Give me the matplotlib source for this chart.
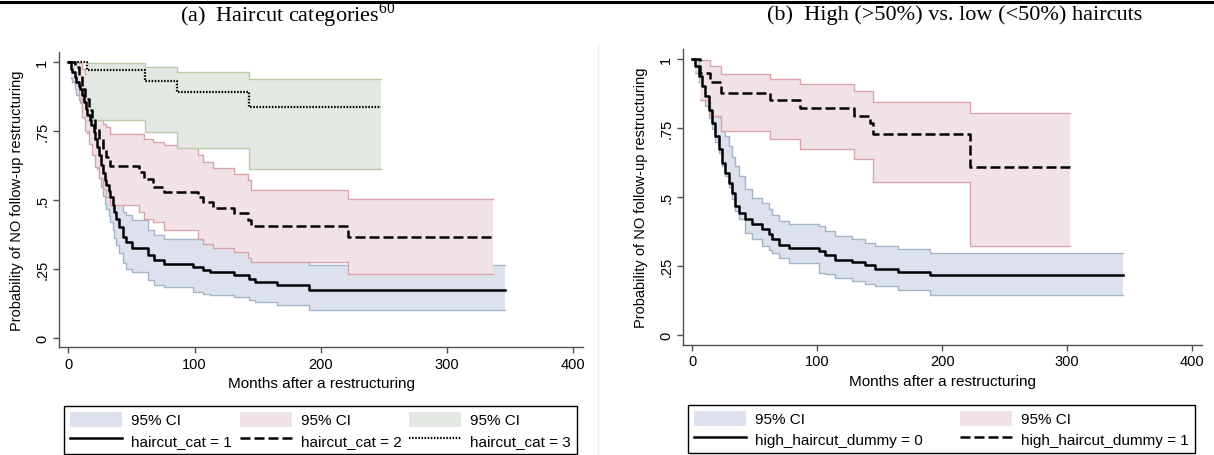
import matplotlib.pyplot as plt
from matplotlib.patches import Patch
from matplotlib.lines import Line2D

# (a) haircut categories: KM estimates and 95% CI bounds, step times in months
cat1_t = [0, 2, 3, 5, 6, 8, 9, 11, 12, 14, 15, 17, 18, 20, 21, 23, 24, 26, 27, 29,
          30, 32, 33, 35, 36, 38, 40, 43, 46, 50, 63, 68, 76, 99, 107, 112, 131, 143,
          148, 165, 191, 346]
cat1_s = [1.0, .975, .963, .944, .926, .912, .902, .878, .854, .830, .806, .788, .770,
          .745, .720, .690, .660, .625, .595, .570, .552, .530, .510, .480, .455, .430,
          .400, .365, .345, .323, .298, .280, .268, .256, .244, .238, .226, .214, .202,
          .190, .171, .171]
cat1_hi = [1.0, 1.0, .995, .985, .975, .965, .955, .940, .920, .900, .880, .862, .845,
           .822, .800, .772, .745, .712, .685, .660, .642, .620, .600, .570, .545, .520,
           .490, .455, .443, .425, .390, .371, .359, .359, .347, .341, .335, .310, .298,
           .280, .262, .262]
cat1_lo = [1.0, .94, .925, .90, .88, .862, .85, .82, .795, .768, .742, .72, .70, .672,
           .645, .612, .580, .545, .512, .486, .466, .44, .42, .39, .36, .335, .305, .272,
           .25, .238, .208, .19, .184, .165, .159, .153, .147, .135, .129, .117, .099, .099]

cat2_t = [0, 5, 8, 11, 13, 16, 19, 21, 24, 27, 30, 33, 56, 60, 67, 76, 103, 107, 115,
          131, 142, 145, 222, 337]
cat2_s = [1.0, .981, .951, .902, .866, .824, .793, .757, .721, .685, .655, .622, .600,
          .576, .546, .528, .510, .492, .468, .450, .425, .403, .365, .365]
cat2_hi = [1.0, 1.0, .995, .975, .955, .925, .895, .86, .80, .775, .763, .739, .739,
           .721, .710, .697, .661, .637, .613, .594, .570, .534, .504, .504]
cat2_lo = [1.0, .93, .87, .80, .75, .70, .66, .62, .58, .54, .51, .48, .456, .430, .419,
           .389, .359, .341, .325, .310, .290, .274, .232, .232]

cat3_t = [0, 15, 61, 86, 143, 248]
cat3_s = [1.0, .968, .930, .890, .836, .836]
cat3_hi = [1.0, .996, .981, .963, .936, .936]
cat3_lo = [1.0, .787, .745, .688, .612, .612]

# (b) high vs. low haircut dummy
low_t = [0, 2, 5, 8, 10, 13, 16, 18, 21, 24, 26, 29, 32, 34, 37, 42, 48, 56, 61, 64,
         69, 77, 101, 106, 114, 128, 138, 146, 165, 190, 345]
low_s = [1.0, .973, .937, .901, .865, .816, .768, .720, .672, .624, .587, .551, .515,
         .467, .443, .419, .401, .383, .365, .347, .328, .316, .304, .292, .274, .265,
         .253, .238, .229, .217, .217]
low_hi = [1.0, .995, .975, .955, .93, .901, .86, .828, .79, .756, .72, .684, .645, .612,
          .575, .530, .495, .479, .455, .435, .413, .401, .395, .377, .359, .347, .335,
          .323, .311, .296, .296]
low_lo = [1.0, .95, .913, .86, .828, .785, .744, .70, .660, .612, .575, .535, .491, .45,
          .419, .371, .347, .323, .31, .299, .28, .263, .226, .22, .208, .196, .187,
          .178, .163, .145, .145]

high_t = [0, 6, 14, 23, 62, 86, 129, 142, 145, 222, 302]
high_s = [1.0, .949, .916, .877, .849, .823, .793, .769, .726, .608, .608]
high_hi = [1.0, .995, .973, .943, .925, .907, .883, .883, .843, .802, .802]
high_lo = [1.0, .85, .793, .738, .708, .674, .636, .636, .554, .322, .322]

ci_fill = ['#dde1ee', '#f0e2e6', '#e3e8e3']
ci_edge = ['#a3b5c9', '#d9a5aa', '#bccaa6']
dash = (0, (4, 1.6))
dot = (0, (0.7, 0.7))

plt.rcParams['font.family'] = 'Liberation Sans'
plt.rcParams['font.size'] = 10.5

W, H = 1214, 456
fig = plt.figure(figsize=(W / 100, H / 100), dpi=100)


def band(ax, t, lo, hi, k, z):
    ax.fill_between(t[1:], lo[1:], hi[1:], step='post', facecolor=ci_fill[k],
                    edgecolor='none', lw=0, zorder=z)
    ax.step(t[1:], hi[1:], where='post', color=ci_edge[k], lw=1.0, zorder=z)
    ax.step(t[1:], lo[1:], where='post', color=ci_edge[k], lw=1.0, zorder=z)


def style_axes(ax):
    for side in ['top', 'right']:
        ax.spines[side].set_visible(False)
    for side in ['left', 'bottom']:
        ax.spines[side].set_color('#505050')
        ax.spines[side].set_linewidth(1.0)
    ax.set_xlim(-7.5, 408)
    ax.set_ylim(-0.034, 1.035)
    ax.set_xticks([0, 100, 200, 300, 400])
    ax.set_yticks([0, .25, .5, .75, 1])
    ax.set_yticklabels(['0', '.25', '.5', '.75', '1'])
    ax.tick_params(direction='out', length=4, width=1.0, color='#505050', pad=3,
                   labelsize=10.5)
    ax.tick_params(axis='y', labelrotation=90)
    for lab in ax.get_yticklabels():
        lab.set_va('center')
    ax.set_xlabel('Months after a restructuring', labelpad=4, fontsize=11)
    ax.set_ylabel('Probability of NO follow-up restructuring', labelpad=8,
                  fontsize=10.5)


ax_a = fig.add_axes([59 / W, 1 - 348 / H, 524 / W, 295 / H])
band(ax_a, cat1_t, cat1_lo, cat1_hi, 0, 1)
band(ax_a, cat2_t, cat2_lo, cat2_hi, 1, 2)
band(ax_a, cat3_t, cat3_lo, cat3_hi, 2, 3)
ax_a.step(cat1_t, cat1_s, where='post', color='black', lw=1.8, zorder=5)
ax_a.step(cat2_t, cat2_s, where='post', color='black', lw=1.8, ls=dash, zorder=5)
ax_a.step(cat3_t, cat3_s, where='post', color='black', lw=1.6, ls=dot, zorder=5)
style_axes(ax_a)

ax_b = fig.add_axes([683 / W, 1 - 345.7 / H, 519 / W, 295.7 / H])
band(ax_b, low_t, low_lo, low_hi, 0, 1)
band(ax_b, high_t, high_lo, high_hi, 1, 2)
ax_b.step(low_t, low_s, where='post', color='black', lw=1.8, zorder=5)
ax_b.step(high_t, high_s, where='post', color='black', lw=1.8, ls=dash, zorder=5)
style_axes(ax_b)

leg_kw = dict(loc='upper left', mode='expand', frameon=True, fancybox=False,
              edgecolor='black', framealpha=1, borderaxespad=0, handlelength=3.4,
              handleheight=1.15, handletextpad=0.6, labelspacing=0.3,
              borderpad=0.4, fontsize=11)

h_a = [Patch(facecolor=ci_fill[0], edgecolor='none'),
       Line2D([], [], color='black', lw=1.8),
       Patch(facecolor=ci_fill[1], edgecolor='none'),
       Line2D([], [], color='black', lw=1.8, ls=dash),
       Patch(facecolor=ci_fill[2], edgecolor='none'),
       Line2D([], [], color='black', lw=1.6, ls=dot)]
l_a = ['95% CI', 'haircut_cat = 1', '95% CI', 'haircut_cat = 2', '95% CI',
       'haircut_cat = 3']
leg_a = fig.legend(h_a, l_a, ncol=3,
                   bbox_to_anchor=(64 / W, 1 - 407 / H, 513 / W, 0.001), **leg_kw)
leg_a.get_frame().set_linewidth(1.0)

h_b = [Patch(facecolor=ci_fill[0], edgecolor='none'),
       Line2D([], [], color='black', lw=1.8),
       Patch(facecolor=ci_fill[1], edgecolor='none'),
       Line2D([], [], color='black', lw=1.8, ls=dash)]
l_b = ['95% CI', 'high_haircut_dummy = 0', '95% CI', 'high_haircut_dummy = 1']
leg_b = fig.legend(h_b, l_b, ncol=2,
                   bbox_to_anchor=(688 / W, 1 - 406 / H, 507 / W, 0.001), **leg_kw)
leg_b.get_frame().set_linewidth(1.0)

fig.text(288 / W, 1 - 15 / H, r'(a)  Haircut categories$^{\mathregular{60}}$',
         family='Liberation Serif', fontsize=16, ha='center', va='center')
fig.text(955 / W, 1 - 15 / H, '(b)  High (>50%) vs. low (<50%) haircuts',
         family='Liberation Serif', fontsize=16, ha='center', va='center')

fig.add_artist(Line2D([0, 1], [1 - 2.5 / H] * 2, color='black', lw=2.2))
fig.add_artist(Line2D([598 / W] * 2, [0, 1 - 45 / H], color='#ececec', lw=1.0))

fig.savefig('out.png', dpi=100)
